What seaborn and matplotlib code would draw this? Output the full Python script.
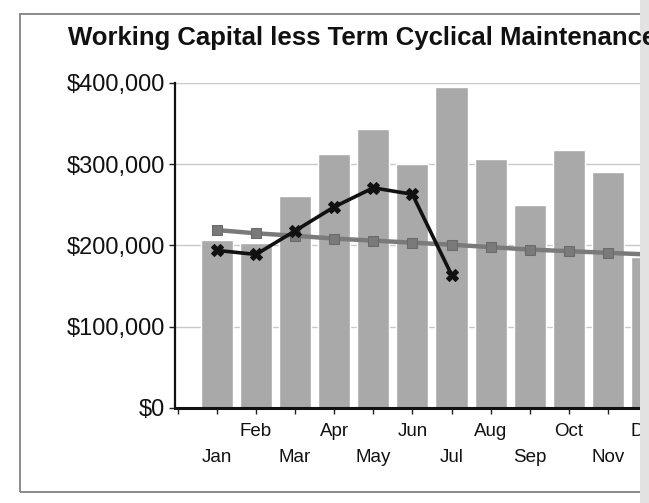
import numpy as np
import pandas as pd
import matplotlib
matplotlib.use("Agg")
import matplotlib.pyplot as plt
from matplotlib.patches import Rectangle
import seaborn as sns

# ---- data ----
months = ["Jan", "Feb", "Mar", "Apr", "May", "Jun", "Jul", "Aug", "Sep", "Oct", "Nov", "Dec"]
bar_values = [207000, 203000, 261000, 313000, 344000, 300000, 395000, 307000, 250000, 317000, 291000, 186000]
trend_values = [219000, 215000, 212000, 208500, 206000, 203500, 201000, 198000, 195000, 193000, 191000, 189000]
actual_values = [194000, 189000, 218000, 247500, 271000, 263000, 164000]
ytick_values = [0, 100000, 200000, 300000, 400000]
title = "Working Capital less Term Cyclical Maintenance"

sns.set_theme(style="white")
plt.rcParams["font.family"] = ["Liberation Sans", "DejaVu Sans"]

W, H = 649, 503
fig = plt.figure(figsize=(W / 100, H / 100), dpi=100)
fig.patch.set_facecolor("white")

# outer chart frame
fig.patches.append(Rectangle((20 / W, 1 - 492 / H), 1.2, (492 - 14) / H,
                             transform=fig.transFigure, fill=False,
                             edgecolor="#8a8a8a", lw=1.4, zorder=0))
# scanner edge shadow on the right
fig.patches.append(Rectangle((640 / W, 0), 10 / W, 1, transform=fig.transFigure,
                             facecolor="#e2e2e2", edgecolor="none", zorder=0))

ax = fig.add_axes([175 / W, 1 - 408 / H, (W - 175) / W, (408 - 83) / H])
ax.set_facecolor("none")

df = pd.DataFrame({"pos": np.arange(len(months)), "value": bar_values})
sns.barplot(data=df, x="pos", y="value", color="#a9a9a9", saturation=1,
            width=0.82, ax=ax, zorder=2)

tr = pd.DataFrame({"pos": np.arange(len(trend_values)), "value": trend_values})
sns.lineplot(data=tr, x="pos", y="value", color="#7a7a7a", lw=3.2,
             marker="s", markersize=7, markeredgecolor="#6a6a6a", ax=ax, zorder=3)

ac = pd.DataFrame({"pos": np.arange(len(actual_values)), "value": actual_values})
sns.lineplot(data=ac, x="pos", y="value", color="#111111", lw=2.6,
             marker="X", markersize=8, markeredgecolor="#111111", ax=ax, zorder=4)

ax.set_xlim(-1.07, 11.05)
ax.set_ylim(0, 400000)
ax.set_xlabel("")
ax.set_ylabel("")

ax.set_yticks(ytick_values)
ax.set_yticklabels([f"${v:,.0f}" for v in ytick_values], fontsize=17, color="#111111")
ax.yaxis.grid(True, color="#c8c8c8", lw=1.0)
ax.set_axisbelow(True)

ax.set_xticks(np.arange(-1, len(months)))
ax.set_xticklabels([""] * (len(months) + 1))
ax.tick_params(axis="both", which="both", direction="out", length=4, width=1,
               color="#222222", bottom=True, left=True)
ax.tick_params(axis="y", pad=3)

# staggered month labels
for i, m in enumerate(months):
    off = -17 if i % 2 == 1 else -36
    ax.annotate(m, xy=(i, 0), xycoords=("data", "axes fraction"),
                xytext=(0, off), textcoords="offset points",
                ha="center", va="center", fontsize=13.5, color="#111111",
                annotation_clip=False)

for s in ["top", "right"]:
    ax.spines[s].set_visible(False)
ax.spines["left"].set_color("#111111")
ax.spines["left"].set_linewidth(1.6)
ax.spines["bottom"].set_color("#111111")
ax.spines["bottom"].set_linewidth(2.2)

leg = ax.get_legend()
if leg is not None:
    leg.remove()

fig.text(68 / W, 1 - 45 / H, title, fontsize=18.5, fontweight="bold",
         color="#111111", ha="left", va="baseline")

fig.savefig("out.png", dpi=100, facecolor="white")
